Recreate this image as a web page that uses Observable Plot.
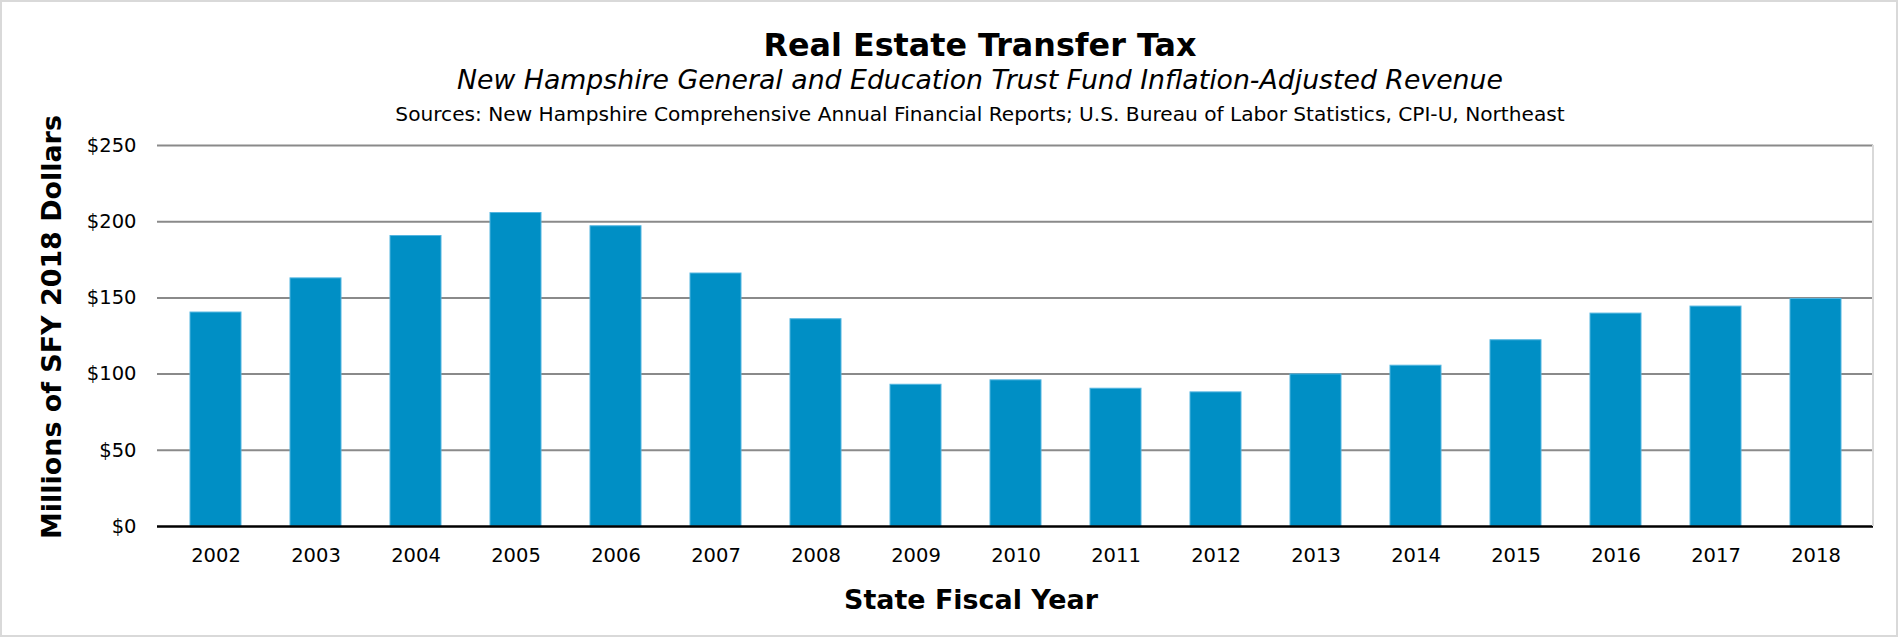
<!DOCTYPE html>
<html>
<head>
<meta charset="utf-8">
<script src="https://cdn.jsdelivr.net/npm/d3@7"></script>
<script src="https://cdn.jsdelivr.net/npm/@observablehq/plot@0.6"></script>
<style>
  html, body { margin: 0; padding: 0; background: #fff; overflow: hidden; }
  svg { display: block; }
</style>
</head>
<body>
<script>
// ---- data ----
const years = ["2002","2003","2004","2005","2006","2007","2008","2009","2010","2011","2012","2013","2014","2015","2016","2017","2018"];
const revenue = [140.4, 162.8, 190.6, 205.7, 197.0, 166.0, 136.0, 93.0, 95.9, 90.4, 88.0, 99.8, 105.5, 122.2, 139.7, 144.3, 149.3];
const yTicks = [0, 50, 100, 150, 200, 250];
const titleText = "Real Estate Transfer Tax";
const subtitleText = "New Hampshire General and Education Trust Fund Inflation-Adjusted Revenue";
const sourceText = "Sources: New Hampshire Comprehensive Annual Financial Reports; U.S. Bureau of Labor Statistics, CPI-U, Northeast";
const xLabel = "State Fiscal Year";
const yLabel = "Millions of SFY 2018 Dollars";

const data = years.map((year, i) => ({year, value: revenue[i]}));
const FONT = "'DejaVu Sans', Verdana, sans-serif";

const chart = Plot.plot({
  width: 1898,
  height: 637,
  marginTop: 145,
  marginBottom: 111,
  marginLeft: 157,
  marginRight: 25,
  style: {fontFamily: FONT, fontSize: "19.5px", color: "#000", background: "#fff"},
  x: {domain: years, paddingInner: 0.495, paddingOuter: 0.2475, label: null},
  y: {domain: [0, 250], ticks: yTicks, label: null},
  marks: [
    Plot.gridY(yTicks.filter(d => d > 0), {stroke: "#8a8a8a", strokeOpacity: 1, strokeWidth: 2}),
    Plot.barY(data, {x: "year", y: "value", fill: "#008fc5", stroke: "#52b5e0", strokeWidth: 1}),
    Plot.ruleY([0], {stroke: "#000", strokeWidth: 2.5}),
    Plot.axisY(yTicks, {tickSize: 0, tickPadding: 21, tickFormat: d => "$" + d, label: null, fontSize: 19.5, fill: "#000"}),
    Plot.axisX({tickSize: 0, tickPadding: 22, label: null, fontSize: 19.5, fill: "#000"})
  ]
});
document.body.appendChild(chart);

const svg = d3.select(chart);
const xr = chart.scale("x").range;
const yr = chart.scale("y").range;

// outer chart border
svg.insert("rect", ":first-child")
  .attr("x", 1).attr("y", 1).attr("width", 1896).attr("height", 635)
  .attr("fill", "#fff").attr("stroke", "#d9d9d9").attr("stroke-width", 2);

// plot-area right edge
svg.append("line")
  .attr("x1", xr[1]).attr("x2", xr[1])
  .attr("y1", yr[1]).attr("y2", yr[0])
  .attr("stroke", "#d9d9d9").attr("stroke-width", 2);

function addText(txt, opts) {
  const t = svg.append("text")
    .text(txt)
    .attr("font-family", FONT)
    .attr("font-size", 20)
    .attr("font-weight", opts.bold ? "bold" : "normal")
    .attr("font-style", opts.italic ? "italic" : "normal")
    .attr("fill", "#000")
    .attr("text-anchor", "middle");
  const w = t.node().getComputedTextLength();
  const fs = 20 * opts.width / w;
  t.attr("font-size", fs);
  const base = opts.center + 0.3645 * fs;
  if (opts.rotate) {
    t.attr("transform", `translate(${base},${opts.pos}) rotate(-90)`);
  } else {
    t.attr("x", opts.pos).attr("y", base);
  }
  return t;
}

addText(titleText, {bold: true, width: 433, pos: 980, center: 44});
addText(subtitleText, {italic: true, width: 1046, pos: 980, center: 79});
addText(sourceText, {width: 1170, pos: 980, center: 114});
addText(xLabel, {bold: true, width: 254, pos: 971, center: 599});
addText(yLabel, {bold: true, width: 424, pos: 327, center: 51, rotate: true});
</script>
</body>
</html>
